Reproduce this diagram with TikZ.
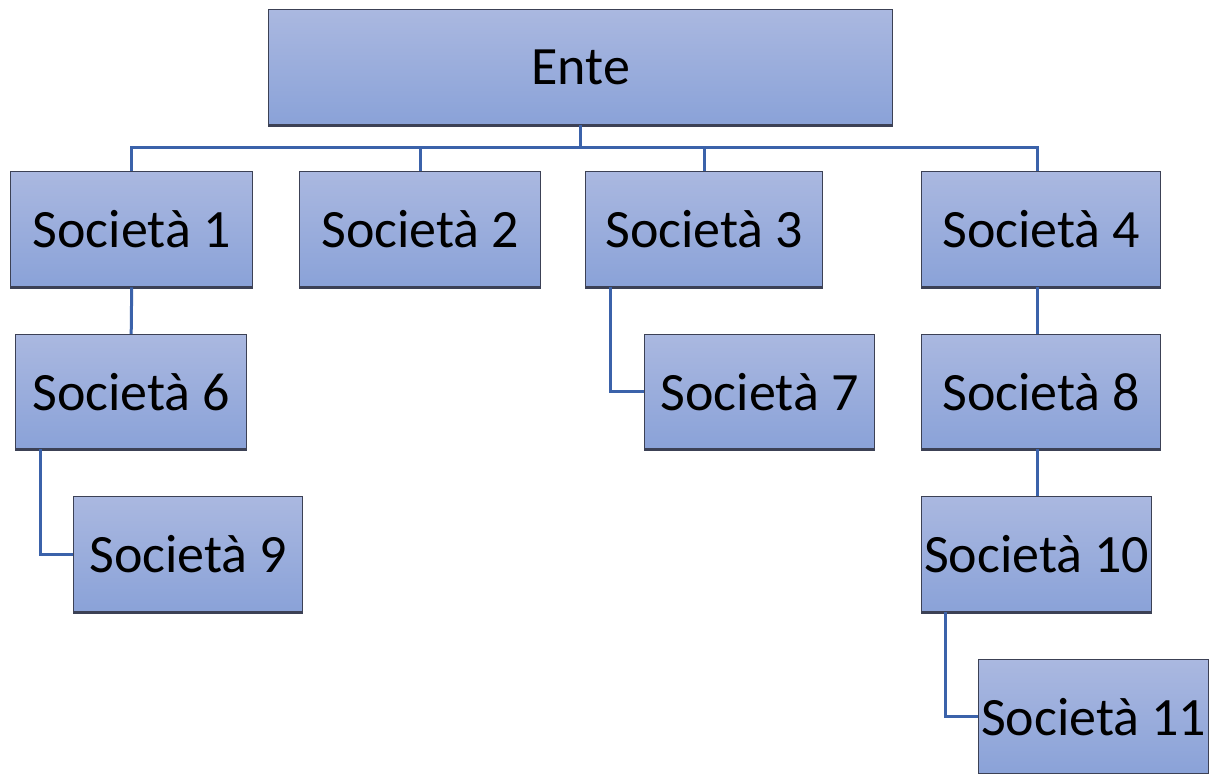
\documentclass[tikz,border=0pt]{standalone}
\usepackage{fontspec}
\setmainfont{Carlito}
\usetikzlibrary{calc}
\definecolor{boxtop}{HTML}{AAB8E0}
\definecolor{boxbot}{HTML}{8AA2D8}
\definecolor{boxedge}{HTML}{3C4155}
\definecolor{conn}{HTML}{3B62AA}
\tikzset{
  orgbox/.style={rectangle, anchor=north west, inner sep=0pt,
    top color=boxtop, bottom color=boxbot, draw=boxedge, line width=0.7pt,
    font=\fontsize{27}{31}\selectfont, text=black,
    append after command={\pgfextra{\draw[boxedge, line width=1.2pt] (\tikzlastnode.south west) -- (\tikzlastnode.south east);}}},
  link/.style={draw=conn, line width=1.5pt}
}
\begin{document}
\begin{tikzpicture}[x=0.5pt,y=-0.5pt]
\useasboundingbox (0,0) rectangle (1211,774);
\node[orgbox, minimum width=312pt, minimum height=57.5pt] (e) at (268,9) {Ente};
\node[orgbox, minimum width=121pt, minimum height=57.5pt] (s1) at (10,171) {Società 1};
\node[orgbox, minimum width=120.5pt, minimum height=57.5pt] (s2) at (299,171) {Società 2};
\node[orgbox, minimum width=118.5pt, minimum height=57.5pt] (s3) at (585,171) {Società 3};
\node[orgbox, minimum width=119.5pt, minimum height=57.5pt] (s4) at (921,171) {Società 4};
\node[orgbox, minimum width=115.5pt, minimum height=57pt] (s6) at (15,334) {Società 6};
\node[orgbox, minimum width=115pt, minimum height=57pt] (s7) at (644,334) {Società 7};
\node[orgbox, minimum width=119.5pt, minimum height=57pt] (s8) at (921,334) {Società 8};
\node[orgbox, minimum width=114.5pt, minimum height=57.5pt] (s9) at (73,496) {Società 9};
\node[orgbox, minimum width=115pt, minimum height=57.5pt] (s10) at (921,496) {Società 10};
\node[orgbox, minimum width=115pt, minimum height=57pt] (s11) at (978,659) {Società 11};
\coordinate (bus) at (580,148);
\coordinate (col) at (1037,0);
\draw[link] (e.south) -- (e.south |- bus);
\draw[link] (s1.north) -- (s1.north |- bus) -- (col |- bus) -- (col |- s4.north);
\draw[link] (s2.north) -- (s2.north |- bus);
\draw[link] (s3.north) -- (s3.north |- bus);
\draw[link] (s1.south) -- (s6.north);
\draw[link] (col |- s4.south) -- (col |- s8.north);
\draw[link] (col |- s8.south) -- (col |- s10.north);
\draw[link] ($(s6.south west)+(25,0)$) |- (s9.west);
\draw[link] ($(s3.south west)+(25,0)$) |- (s7.west);
\draw[link] ($(s10.south west)+(24,0)$) |- (s11.west);
\end{tikzpicture}
\end{document}
